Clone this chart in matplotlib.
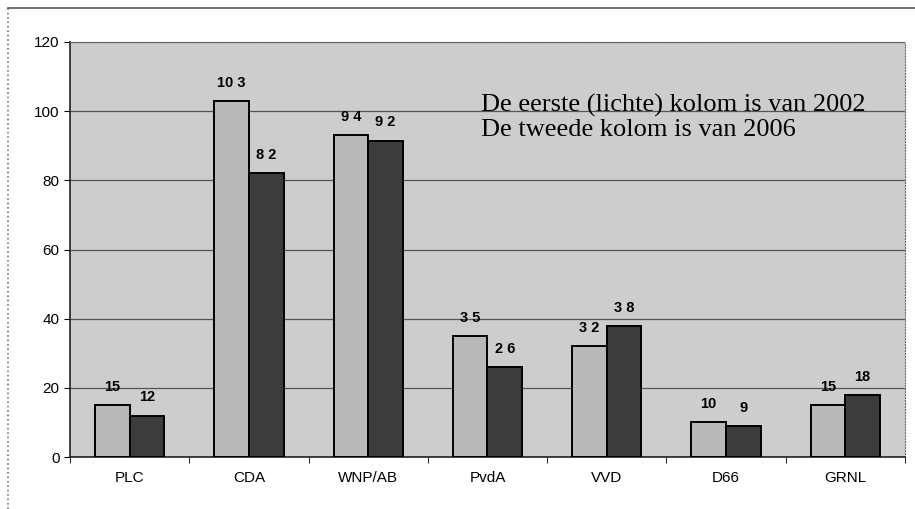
import numpy as np
import matplotlib.pyplot as plt
from matplotlib.lines import Line2D

partijen = ['PLC', 'CDA', 'WNP/AB', 'PvdA', 'VVD', 'D66', 'GRNL']
zetels_2002 = [15, 103, 93, 35, 32, 10, 15]
zetels_2006 = [12, 82, 91.5, 26, 38, 9, 18]
labels_2002 = ['15', '10 3', '9 4', '3 5', '3 2', '10', '15']
labels_2006 = ['12', '8 2', '9 2', '2 6', '3 8', '9', '18']

fig = plt.figure(figsize=(9.15, 5.09), dpi=100)
ax = fig.add_axes([0.0765, 0.102, 0.9125, 0.8155])

# kader om de hele grafiek
fig.add_artist(Line2D([0.009, 0.009], [0.0, 0.984], color='#777777', lw=1.2, ls=':'))
fig.add_artist(Line2D([0.009, 1.0], [0.984, 0.984], color='#555555', lw=1.2))

ax.set_facecolor('#cdcdcd')
x = np.arange(len(partijen))
w = 0.29
b1 = ax.bar(x - w / 2, zetels_2002, w, color='#b9b9b9', edgecolor='black', linewidth=1.4, zorder=3)
b2 = ax.bar(x + w / 2, zetels_2006, w, color='#3c3c3c', edgecolor='black', linewidth=1.4, zorder=3)

for rect, lab in zip(b1, labels_2002):
    ax.annotate(lab, (rect.get_x() + rect.get_width() / 2, rect.get_height()),
                xytext=(0, 8), textcoords='offset points', ha='center', va='bottom',
                fontsize=10.5, fontweight='bold', family='Liberation Sans')
for rect, lab in zip(b2, labels_2006):
    ax.annotate(lab, (rect.get_x() + rect.get_width() / 2, rect.get_height()),
                xytext=(0, 8), textcoords='offset points', ha='center', va='bottom',
                fontsize=10.5, fontweight='bold', family='Liberation Sans')

ax.set_xlim(-0.5, len(partijen) - 0.5)
ax.set_ylim(0, 120)
ax.set_yticks(range(0, 121, 20))
ax.yaxis.grid(True, color='#555555', lw=0.9, zorder=1)
ax.set_xticks(x)
ax.set_xticklabels(partijen, family='Liberation Sans', fontsize=11)
ax.set_xticks(np.arange(-0.5, len(partijen), 1), minor=True)
ax.tick_params(axis='x', which='major', length=0, pad=10)
ax.tick_params(axis='x', which='minor', length=4, direction='out')
ax.tick_params(axis='y', length=4, labelsize=11)
for t in ax.get_yticklabels():
    t.set_family('Liberation Sans')
for s in ['left', 'bottom']:
    ax.spines[s].set_color('#222222')
    ax.spines[s].set_linewidth(1.2)
for s in ['top', 'right']:
    ax.spines[s].set_color('#666666')
    ax.spines[s].set_linestyle(':')

ax.text(0.492, 0.875, 'De eerste (lichte) kolom is van 2002\nDe tweede kolom is van 2006',
        transform=ax.transAxes, family='Liberation Serif', fontsize=19,
        va='top', ha='left', linespacing=1.1)

fig.savefig('out.png', dpi=100, facecolor='white')
